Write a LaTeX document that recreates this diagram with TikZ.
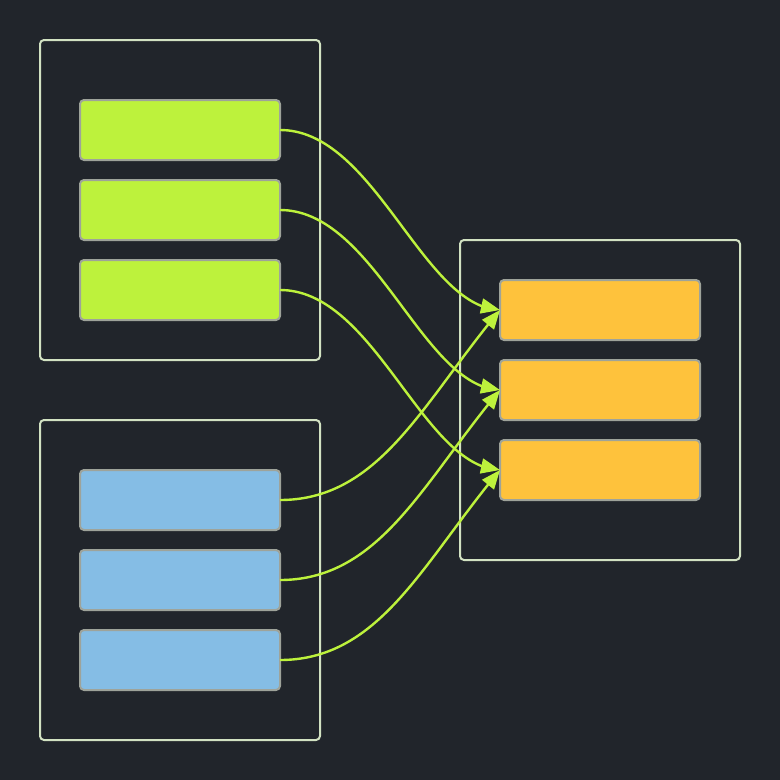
\documentclass[tikz,border=0pt]{standalone}
\usetikzlibrary{arrows.meta,bending}

\definecolor{bg}{HTML}{21252B}
\definecolor{frame}{HTML}{D2E2C2}
\definecolor{itemborder}{HTML}{9EA39A}
\definecolor{lime}{HTML}{BDF23C}
\definecolor{sky}{HTML}{85BDE5}
\definecolor{amber}{HTML}{FEC23C}

\tikzset{
  group/.style={draw=frame, line width=2pt, rounded corners=4pt,
    minimum width=280pt, minimum height=320pt, inner sep=0pt, outer sep=0pt},
  item/.style={draw=itemborder, line width=2pt, rounded corners=4pt,
    minimum width=200pt, minimum height=60pt, inner sep=0pt, outer sep=0pt},
  src/.style={item, fill=lime},
  aux/.style={item, fill=sky},
  dst/.style={item, fill=amber},
  link/.style={draw=lime, line width=2.4pt,
    -{Triangle[length=19pt,width=15pt,flex]}, fill=none},
}

\begin{document}
\begin{tikzpicture}[x=1pt,y=-1pt]
  \fill[bg] (0,0) rectangle (780,780);
  \useasboundingbox (0,0) rectangle (780,780);

  % containers
  \node[group] (left top) at (180,200) {};
  \node[group] (left bottom) at (180,580) {};
  \node[group] (right) at (600,400) {};

  % source rows
  \node[src] (g1) at (180,130) {};
  \node[src] (g2) at (180,210) {};
  \node[src] (g3) at (180,290) {};

  \node[aux] (b1) at (180,500) {};
  \node[aux] (b2) at (180,580) {};
  \node[aux] (b3) at (180,660) {};

  % target rows
  \node[dst] (o1) at (600,310) {};
  \node[dst] (o2) at (600,390) {};
  \node[dst] (o3) at (600,470) {};

  % links from the upper group
  \foreach \s/\t in {g1/o1, g2/o2, g3/o3}
    \draw[link] (\s.east) .. controls +(95,0) and +(-78,-3) .. (\t.west);

  % links from the lower group
  \foreach \s/\t in {b1/o1, b2/o2, b3/o3}
    \draw[link] (\s.east) .. controls +(100,0) and +(-77,92) .. (\t.west);
\end{tikzpicture}
\end{document}
